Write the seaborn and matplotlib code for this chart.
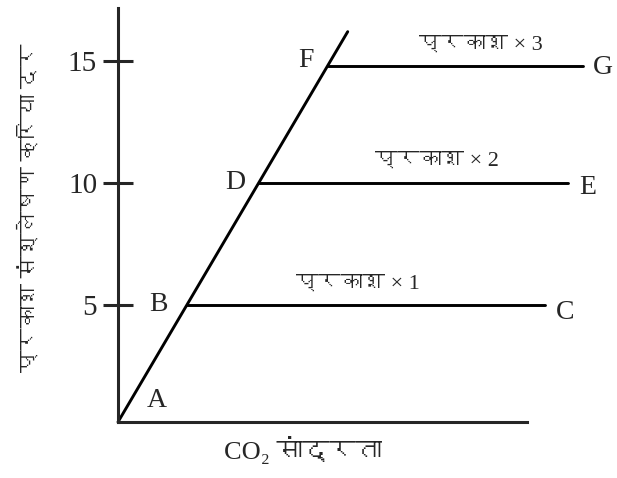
#! /usr/bin/env python
'''
CO2 concentration vs photosynthesis rate at three light levels
'''
# imports
from matplotlib import rcParams
from matplotlib import font_manager, ft2font
import matplotlib
matplotlib.use('Agg')
import matplotlib.pyplot as plt
import pandas as pd
import seaborn as sns

# data
diag_x = [0.0, 16.4]          # CO2 (arbitrary units)
diag_y = [0.2, 16.2]          # rate
level_y = [5.0, 10.0, 14.8]   # light-limited plateaus
level_start = [4.92, 10.05, 15.0]
level_end = [30.5, 32.1, 33.2]
level_names = ['प्रकाश × 1', 'प्रकाश × 2', 'प्रकाश × 3']
point_names = ['A', 'B', 'C', 'D', 'E', 'F', 'G']
yticks = [5, 10, 15]
ylabel = 'प्रकाश संश्लेषण क्रिया दर'
xlabel = 'CO₂ सांद्रता'

# find some installed font that can draw devanagari
deva = None
for f in font_manager.fontManager.ttflist:
    try:
        if 0x0915 in ft2font.FT2Font(f.fname).get_charmap():
            deva = f.name
            break
    except Exception:
        pass

# settings
sns.set_style("ticks")
fams = ['Liberation Serif'] + ([deva] if deva else []) + ['DejaVu Sans']
rcParams['font.family'] = fams
rcParams['axes.linewidth'] = 2.2

# segments as long table
rows = []
for i in range(2):
    rows.append({'seg': 0, 'x': diag_x[i], 'y': diag_y[i]})
for k in range(3):
    rows.append({'seg': k+1, 'x': level_start[k], 'y': level_y[k]})
    rows.append({'seg': k+1, 'x': level_end[k], 'y': level_y[k]})
df = pd.DataFrame(rows)

fig = plt.figure(figsize=(6.17, 4.78), dpi=100)
ax = fig.add_axes([118/617., 56/478., 409/617., 414/478.])
sns.lineplot(data=df, x='x', y='y', units='seg', estimator=None, color='black', lw=2.1, ax=ax)
for l in ax.lines:
    l.set_clip_on(False)

ax.set_xlim(0, 29.2)
ax.set_ylim(0.2, 17.17)
ax.set_xticks([])
ax.set_yticks(yticks)
ax.tick_params(axis='y', direction='inout', length=22, width=2.2, pad=4, labelsize=21)
sns.despine(ax=ax)

# point labels
pts = {'A': (2.8, 1.1), 'B': (2.86, 5.0), 'D': (8.4, 10.0), 'F': (13.4, 15.0),
       'C': (31.9, 4.7), 'E': (33.5, 9.8), 'G': (34.6, 14.75)}
for n in point_names:
    ax.text(pts[n][0], pts[n][1], n, fontsize=20, ha='center', va='center')

# light labels
lpos = [(17.1, 5.86), (22.8, 10.9), (25.9, 15.66)]
for k in range(3):
    ax.text(lpos[k][0], lpos[k][1], level_names[k], fontsize=16, ha='center', va='center')

ax.set_ylabel(ylabel, fontsize=16)
ax.yaxis.set_label_coords(-0.19, 0.517)
ax.set_xlabel(xlabel, fontsize=19)
ax.xaxis.set_label_coords(0.452, -0.035)

fig.savefig('out.png', dpi=100)
plt.close()
